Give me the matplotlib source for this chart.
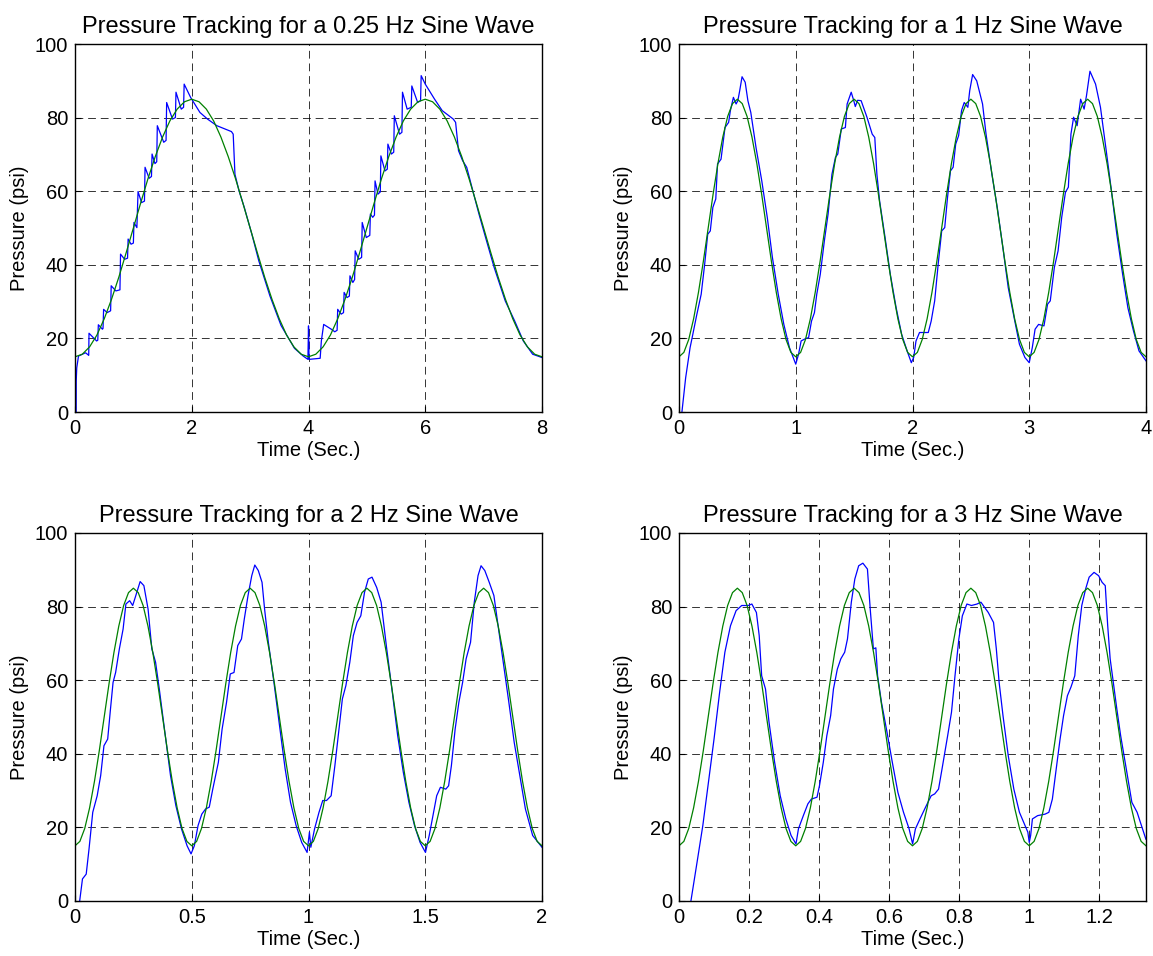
import numpy as np
import matplotlib
matplotlib.use("Agg")
import matplotlib.pyplot as plt

plt.rcParams["font.family"] = ["Liberation Sans", "DejaVu Sans"]

# reference sine (green), sampled evenly over each panel
ref_025hz = [15.0, 15.7, 17.7, 20.9, 25.3, 30.6, 36.6, 43.2, 50.0, 56.8, 63.4, 69.4, 74.7, 79.1, 82.3, 84.3,
             85.0, 84.3, 82.3, 79.1, 74.7, 69.4, 63.4, 56.8, 50.0, 43.2, 36.6, 30.6, 25.3, 20.9, 17.7, 15.7,
             15.0, 15.7, 17.7, 20.9, 25.3, 30.6, 36.6, 43.2, 50.0, 56.8, 63.4, 69.4, 74.7, 79.1, 82.3, 84.3,
             85.0, 84.3, 82.3, 79.1, 74.7, 69.4, 63.4, 56.8, 50.0, 43.2, 36.6, 30.6, 25.3, 20.9, 17.7, 15.7,
             15.0]
ref_4cycles = [15.0, 16.2, 19.7, 25.3, 32.5, 40.9, 50.0, 59.1, 67.5, 74.7, 80.3, 83.8,
               85.0, 83.8, 80.3, 74.7, 67.5, 59.1, 50.0, 40.9, 32.5, 25.3, 19.7, 16.2,
               15.0, 16.2, 19.7, 25.3, 32.5, 40.9, 50.0, 59.1, 67.5, 74.7, 80.3, 83.8,
               85.0, 83.8, 80.3, 74.7, 67.5, 59.1, 50.0, 40.9, 32.5, 25.3, 19.7, 16.2,
               15.0, 16.2, 19.7, 25.3, 32.5, 40.9, 50.0, 59.1, 67.5, 74.7, 80.3, 83.8,
               85.0, 83.8, 80.3, 74.7, 67.5, 59.1, 50.0, 40.9, 32.5, 25.3, 19.7, 16.2,
               15.0, 16.2, 19.7, 25.3, 32.5, 40.9, 50.0, 59.1, 67.5, 74.7, 80.3, 83.8,
               85.0, 83.8, 80.3, 74.7, 67.5, 59.1, 50.0, 40.9, 32.5, 25.3, 19.7, 16.2,
               15.0]

# measured pressure (blue), 0.25 Hz
t_025 = [0.02, 0.021, 0.03, 0.06, 0.18, 0.22, 0.235, 0.24, 0.37, 0.39, 0.40, 0.47, 0.48, 0.49, 0.55,
         0.61, 0.62, 0.70, 0.77, 0.78, 0.85, 0.90, 0.91, 0.96, 1.00, 1.01, 1.06, 1.08, 1.14, 1.19,
         1.20, 1.27, 1.31, 1.32, 1.37, 1.40, 1.41, 1.52, 1.56, 1.57, 1.67, 1.72, 1.73, 1.82, 1.86,
         1.87, 1.98, 2.14, 2.27, 2.43, 2.68, 2.71, 2.74, 2.81, 2.90, 3.03, 3.15, 3.34, 3.53, 3.76,
         3.91, 3.99, 4.0, 4.01, 4.20, 4.22, 4.26, 4.39, 4.45, 4.49, 4.50, 4.56, 4.60, 4.61, 4.66,
         4.70, 4.71, 4.76, 4.79, 4.80, 4.86, 4.91, 4.92, 4.99, 5.05, 5.06, 5.10, 5.13, 5.14, 5.19,
         5.23, 5.24, 5.31, 5.35, 5.36, 5.42, 5.46, 5.47, 5.56, 5.60, 5.61, 5.69, 5.76, 5.77, 5.87,
         5.92, 5.93, 6.00, 6.16, 6.29, 6.48, 6.52, 6.57, 6.64, 6.71, 6.83, 6.92, 7.05, 7.18, 7.37,
         7.53, 7.68, 7.84, 8.0]
p_025 = [0.0, 8.4, 12.0, 15.2, 16.1, 15.6, 15.4, 21.4, 19.3, 19.5, 23.7, 22.5, 22.7, 27.9, 27.0,
         27.5, 34.3, 32.9, 33.2, 42.9, 41.5, 41.8, 47.0, 45.6, 45.9, 51.5, 50.1, 59.9, 56.9, 57.3,
         66.5, 63.5, 64.0, 70.1, 67.5, 68.0, 77.8, 73.3, 73.8, 84.1, 79.6, 80.0, 86.9, 82.3, 82.8,
         89.1, 85.5, 81.4, 79.6, 77.8, 76.2, 75.5, 64.6, 60.1, 55.6, 48.3, 41.0, 31.5, 23.5, 17.3,
         15.2, 14.3, 23.4, 14.3, 14.6, 19.3, 23.8, 22.5, 21.8, 22.2, 27.9, 26.6, 27.0, 32.5, 31.1,
         31.5, 37.0, 35.2, 36.0, 43.8, 41.5, 42.0, 51.5, 47.4, 48.0, 53.8, 52.9, 53.5, 62.8, 59.2,
         59.8, 69.6, 65.5, 66.0, 72.8, 70.1, 70.6, 80.5, 75.5, 76.0, 86.9, 82.3, 82.8, 88.6, 84.1,
         84.6, 91.4, 89.1, 85.0, 81.9, 79.6, 78.7, 71.0, 68.3, 66.5, 59.2, 53.8, 46.5, 39.3, 30.2,
         24.8, 19.3, 15.7, 14.8]

# measured pressure (blue), 1 Hz
t_1 = [0.025, 0.057, 0.095, 0.11, 0.15, 0.19, 0.22, 0.246, 0.268, 0.29, 0.315, 0.33, 0.36, 0.394,
       0.425, 0.44, 0.466, 0.489, 0.504, 0.52, 0.54, 0.567, 0.59, 0.615, 0.66, 0.709, 0.756, 0.80,
       0.85, 0.898, 0.946, 1.0, 1.024, 1.046, 1.087, 1.11, 1.135, 1.16, 1.18, 1.21, 1.245, 1.277,
       1.31, 1.34, 1.36, 1.39, 1.425, 1.44, 1.475, 1.497, 1.51, 1.53, 1.56, 1.61, 1.655, 1.677,
       1.695, 1.718, 1.765, 1.81, 1.86, 1.907, 1.954, 1.99, 2.01, 2.03, 2.06, 2.11, 2.135, 2.16,
       2.19, 2.22, 2.25, 2.276, 2.30, 2.325, 2.348, 2.37, 2.395, 2.42, 2.443, 2.474, 2.49, 2.515,
       2.55, 2.60, 2.63, 2.68, 2.726, 2.774, 2.82, 2.87, 2.916, 2.963, 3.0, 3.026, 3.05, 3.08,
       3.126, 3.157, 3.18, 3.215, 3.247, 3.278, 3.31, 3.335, 3.357, 3.38, 3.41, 3.44, 3.47, 3.49,
       3.52, 3.568, 3.61, 3.656, 3.70, 3.75, 3.80, 3.845, 3.893, 3.94, 4.0]
p_1 = [0.0, 9.3, 17.5, 19.8, 26.1, 32.0, 40.2, 48.3, 49.2, 55.6, 57.9, 67.4, 68.7, 77.3,
       78.7, 81.9, 85.5, 83.7, 84.6, 87.3, 91.1, 89.6, 84.6, 81.4, 71.8, 62.8, 52.9, 42.0,
       32.0, 23.8, 17.5, 13.0, 15.7, 19.3, 20.0, 20.2, 24.7, 27.0, 32.0, 37.4, 46.5, 53.8,
       64.6, 69.2, 70.1, 76.9, 77.3, 83.7, 86.9, 84.6, 83.0, 84.7, 84.6, 80.1, 75.5, 74.6,
       64.6, 57.4, 47.4, 37.4, 28.3, 21.1, 16.6, 13.4, 14.8, 19.3, 21.6, 21.6, 21.6, 24.7,
       30.2, 40.2, 49.2, 50.1, 58.3, 65.5, 66.5, 72.8, 75.1, 81.9, 84.1, 82.8, 87.3, 91.7,
       90.0, 83.7, 75.5, 64.6, 55.6, 44.7, 33.8, 25.7, 18.4, 14.8, 13.4, 17.5, 22.5, 23.8,
       23.4, 29.3, 30.2, 39.3, 43.8, 52.9, 59.7, 61.1, 75.5, 80.1, 77.8, 85.0, 82.3, 85.9,
       92.6, 89.1, 82.8, 71.8, 61.1, 48.3, 37.4, 28.3, 22.0, 16.6, 13.9]

# measured pressure (blue), 2 Hz
t_2 = [0.02, 0.032, 0.048, 0.06, 0.076, 0.095, 0.11, 0.124, 0.14, 0.152, 0.163, 0.174, 0.19,
       0.206, 0.218, 0.234, 0.247, 0.258, 0.279, 0.295, 0.313, 0.329, 0.345, 0.361, 0.385,
       0.409, 0.432, 0.456, 0.48, 0.497, 0.511, 0.527, 0.543, 0.559, 0.575, 0.59, 0.614, 0.63,
       0.649, 0.665, 0.681, 0.697, 0.713, 0.725, 0.741, 0.757, 0.77, 0.785, 0.801, 0.812,
       0.828, 0.852, 0.876, 0.90, 0.923, 0.947, 0.971, 0.994, 1.004, 1.01, 1.026, 1.045,
       1.061, 1.077, 1.097, 1.113, 1.129, 1.145, 1.16, 1.177, 1.192, 1.208, 1.224, 1.24,
       1.256, 1.272, 1.292, 1.311, 1.335, 1.359, 1.382, 1.406, 1.43, 1.454, 1.478, 1.501,
       1.517, 1.533, 1.549, 1.565, 1.588, 1.60, 1.612, 1.628, 1.644, 1.66, 1.675, 1.694,
       1.71, 1.726, 1.739, 1.755, 1.774, 1.794, 1.81, 1.834, 1.858, 1.881, 1.905, 1.929,
       1.96, 2.0]
p_2 = [0.0, 6.0, 7.3, 14.1, 24.1, 28.6, 34.1, 42.2, 44.0, 52.2, 59.4, 62.1, 68.5,
       73.9, 80.7, 81.6, 80.3, 82.5, 86.8, 85.7, 79.3, 68.5, 64.9, 57.6, 45.8,
       34.1, 25.9, 19.6, 15.0, 12.8, 15.0, 20.5, 23.6, 25.0, 25.5, 30.4, 37.7, 46.7,
       54.0, 61.7, 62.1, 69.4, 71.2, 76.6, 83.0, 88.4, 91.3, 89.8, 86.6, 79.3,
       70.3, 59.4, 47.6, 35.9, 26.8, 20.5, 15.9, 13.2, 18.7, 14.6, 19.6, 24.1,
       27.3, 27.3, 28.6, 36.8, 45.8, 54.9, 58.5, 64.9, 72.1, 75.7, 77.5, 83.9,
       87.5, 88.0, 85.2, 81.2, 68.5, 56.7, 44.9, 35.0, 26.8, 20.5, 15.9, 13.2,
       17.8, 23.2, 28.6, 30.9, 30.4, 31.3, 36.8, 46.7, 54.0, 59.4, 65.8, 70.3,
       81.2, 88.4, 91.1, 89.8, 86.6, 83.0, 75.7, 64.9, 54.0, 43.1, 34.1, 25.0,
       17.8, 14.6]

# measured pressure (blue), 3 Hz
t_3 = [0.034, 0.053, 0.068, 0.084, 0.10, 0.116, 0.131, 0.147, 0.163, 0.179, 0.198, 0.208,
       0.221, 0.229, 0.236, 0.247, 0.257, 0.273, 0.289, 0.305, 0.32, 0.334, 0.341, 0.355,
       0.368, 0.378, 0.394, 0.401, 0.412, 0.422, 0.433, 0.441, 0.452, 0.462, 0.473, 0.481,
       0.492, 0.502, 0.513, 0.525, 0.538, 0.546, 0.555, 0.562, 0.567, 0.578, 0.594, 0.609,
       0.625, 0.641, 0.657, 0.667, 0.675, 0.688, 0.704, 0.72, 0.73, 0.741, 0.751, 0.767,
       0.778, 0.788, 0.799, 0.809, 0.822, 0.835, 0.851, 0.862, 0.883, 0.898, 0.906, 0.914,
       0.925, 0.94, 0.956, 0.972, 0.988, 0.996, 1.0, 1.004, 1.009, 1.024, 1.045, 1.056,
       1.066, 1.077, 1.088, 1.098, 1.109, 1.119, 1.13, 1.14, 1.15, 1.161, 1.171, 1.185,
       1.198, 1.208, 1.217, 1.224, 1.231, 1.24, 1.25, 1.261, 1.277, 1.293, 1.308, 1.333]
p_3 = [0.0, 11.4, 20.5, 32.2, 44.0, 56.7, 67.6, 74.8, 78.9, 80.3, 80.3, 80.7,
       78.4, 72.1, 61.2, 57.6, 48.6, 37.7, 28.6, 22.3, 17.8, 15.5, 19.6, 23.2,
       26.4, 27.7, 28.2, 31.3, 37.7, 44.9, 50.4, 57.6, 63.0, 65.8, 67.6, 71.2,
       81.2, 87.5, 91.1, 91.8, 90.2, 79.3, 68.5, 68.8, 61.2, 54.0, 45.8, 37.7,
       29.5, 24.1, 19.6, 15.5, 19.6, 22.3, 25.5, 28.6, 29.1, 30.4, 35.9, 44.9,
       51.3, 61.2, 71.2, 77.5, 80.7, 80.3, 80.7, 81.2, 78.4, 75.7, 68.5, 59.4,
       50.4, 39.5, 30.4, 24.1, 20.5, 18.7, 15.9, 17.8, 22.3, 23.2, 23.6, 24.1,
       27.7, 35.9, 44.0, 50.4, 55.8, 58.1, 61.2, 72.1, 80.3, 84.8, 88.0, 89.3,
       88.4, 86.6, 85.7, 74.8, 65.8, 59.4, 52.2, 44.9, 35.9, 26.8, 24.1, 16.8]

panels = [
    ("Pressure Tracking for a 0.25 Hz Sine Wave", t_025, p_025, ref_025hz, 8.0,
     [0, 2, 4, 6, 8], ["0", "2", "4", "6", "8"]),
    ("Pressure Tracking for a 1 Hz Sine Wave", t_1, p_1, ref_4cycles, 4.0,
     [0, 1, 2, 3, 4], ["0", "1", "2", "3", "4"]),
    ("Pressure Tracking for a 2 Hz Sine Wave", t_2, p_2, ref_4cycles, 2.0,
     [0, 0.5, 1, 1.5, 2], ["0", "0.5", "1", "1.5", "2"]),
    ("Pressure Tracking for a 3 Hz Sine Wave", t_3, p_3, ref_4cycles, 4.0 / 3.0,
     [0, 0.2, 0.4, 0.6, 0.8, 1.0, 1.2], ["0", "0.2", "0.4", "0.6", "0.8", "1", "1.2"]),
]

W, H = 1153, 956
rects = [(75, 44), (679, 44), (75, 533), (679, 533)]
ax_w, ax_h = 467, 368

fig = plt.figure(figsize=(W / 100, H / 100), dpi=100)

for (title, t_meas, p_meas, p_ref, t_end, ticks, ticklabels), (x0, y0) in zip(panels, rects):
    ax = fig.add_axes([x0 / W, 1 - (y0 + ax_h) / H, ax_w / W, ax_h / H])
    t_ref = np.linspace(0, t_end, len(p_ref))
    ax.plot(t_meas, p_meas, color=(0, 0, 1), lw=0.9)
    ax.plot(t_ref, p_ref, color=(0, 0.5, 0), lw=0.9)
    ax.set_xlim(0, t_end)
    ax.set_ylim(0, 100)
    ax.set_xticks(ticks)
    ax.set_xticklabels(ticklabels)
    ax.set_yticks([0, 20, 40, 60, 80, 100])
    ax.grid(True, color="black", linestyle=(0, (8, 5)), linewidth=0.7, alpha=0.8)
    ax.tick_params(direction="in", length=4, labelsize=14.5, pad=5)
    for s in ax.spines.values():
        s.set_linewidth(1.0)
    ax.set_title(title, fontsize=17, pad=8)
    ax.set_xlabel("Time (Sec.)", fontsize=14.5, labelpad=2)
    ax.set_ylabel("Pressure (psi)", fontsize=14.5, labelpad=4)

fig.savefig("out.png", dpi=100)
